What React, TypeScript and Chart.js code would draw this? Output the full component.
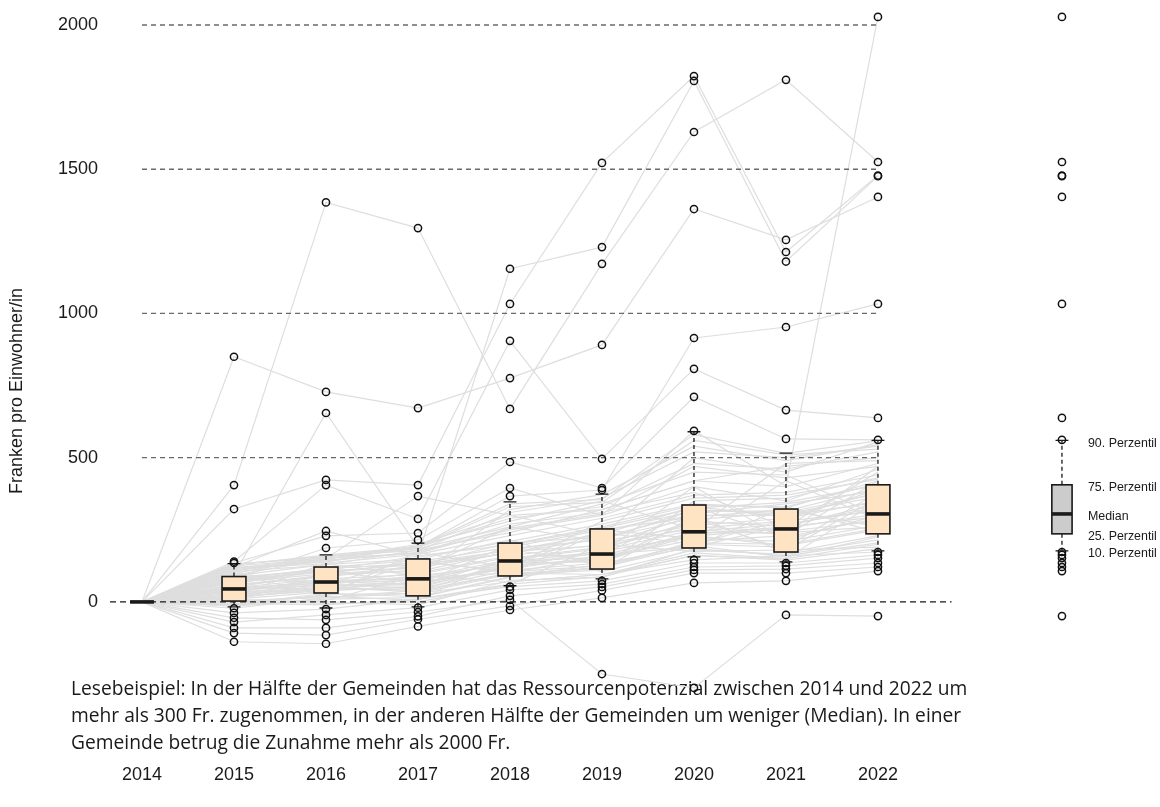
import { useEffect, useRef } from 'react';
import { Chart, registerables } from 'chart.js';

Chart.register(...registerables);

// ---------- data ----------
const years = ['2014', '2015', '2016', '2017', '2018', '2019', '2020', '2021', '2022'];
const yTickValues = [0, 500, 1000, 1500, 2000];

// box statistics per year (10th, 25th, median, 75th, 90th percentile)
const p10 = [0, -17, -21, -17, 56, 80, 156, 139, 177];
const p25 = [0, 3, 31, 21, 90, 114, 187, 173, 236];
const p50 = [0, 45, 69, 80, 142, 166, 243, 253, 305];
const p75 = [0, 88, 121, 149, 204, 253, 336, 322, 406];
const p90 = [0, 133, 163, 204, 347, 374, 590, 516, 560];

const legendLabels = ['90. Perzentil', '75. Perzentil', 'Median', '25. Perzentil', '10. Perzentil'];
const yTitle = 'Franken pro Einwohner/in';
const noteLines = [
  'Lesebeispiel: In der Hälfte der Gemeinden hat das Ressourcenpotenzial zwischen 2014 und 2022 um',
  'mehr als 300 Fr. zugenommen, in der anderen Hälfte der Gemeinden um weniger (Median). In einer',
  'Gemeinde betrug die Zunahme mehr als 2000 Fr.',
];

// change per municipality vs. 2014 (columns 2014 ... 2022)
const gemeinden: number[][] = [
  [0, 405, 1385, 1296, 669, 1172, 1629, 1810, 1525],
  [0, 850, 728, 672, 776, 891, 1362, 1255, 1404],
  [0, 322, 423, 405, 1033, 1522, 1823, 1213, 1478],
  [0, 120, 246, 160, 1155, 1230, 1806, 1180, 1476],
  [0, 140, 405, 288, 905, 496, 808, 665, 638],
  [0, 94, 655, 190, 367, 388, 915, 953, 1033],
  [0, 135, 229, 239, 485, 395, 711, 565, 562],
  [0, 80, 187, 215, 395, 300, 593, 402, 2028],
  [0, 110, 150, 367, 300, 320, 420, 470, 500],
  [0, -55, -62, -35, 7, -250, -298, -45, -49],
  [0, -138, -145, -85, -28, 14, 66, 73, 107],
  [0, -108, -115, -60, -14, 40, 100, 100, 121],
  [0, -90, -90, -50, 21, 52, 111, 114, 135],
  [0, -70, -45, -20, 42, 62, 121, 125, 152],
  [0, -38, -25, 10, 53, 73, 135, 135, 163],
  [0, -22, 15, 30, 70, 95, 146, 160, 173],
  [0, -10, 5, 90, 70, 95, 170, 150, 200],
  [0, -5, -10, 10, 62, 88, 162, 145, 185],
  [0, 0, 20, 5, 160, 105, 180, 165, 215],
  [0, -15, 10, 15, 85, 120, 195, 155, 225],
  [0, 2, -5, 0, 60, 200, 175, 180, 190],
  [0, -12, 25, 30, 95, 110, 300, 170, 230],
  [0, 8, 0, -10, 75, 85, 185, 160, 205],
  [0, -8, 30, 18, 88, 130, 200, 190, 380],
  [0, 5, 15, 40, 100, 95, 160, 150, 350],
  [0, 10, 35, 140, 105, 125, 205, 200, 255],
  [0, 15, 45, 45, 110, 135, 190, 330, 240],
  [0, 20, 38, 55, 120, 250, 220, 210, 265],
  [0, 25, 50, 35, 98, 118, 210, 230, 420],
  [0, 12, 55, 60, 125, 145, 230, 195, 250],
  [0, 30, 42, 70, 115, 160, 330, 225, 290],
  [0, 18, 60, 48, 135, 140, 240, 240, 260],
  [0, 35, 48, 40, 130, 170, 400, 215, 300],
  [0, 28, 65, 75, 140, 155, 215, 420, 285],
  [0, 40, 58, 65, 118, 180, 250, 235, 470],
  [0, 38, 68, 85, 100, 162, 235, 260, 295],
  [0, 45, 72, 58, 150, 190, 260, 245, 280],
  [0, 100, 62, 90, 128, 148, 245, 270, 320],
  [0, 42, 75, 78, 138, 175, 228, 255, 305],
  [0, 50, 80, 95, 155, 165, 190, 265, 330],
  [0, 48, 66, 100, 160, 200, 255, 280, 315],
  [0, 55, 40, 82, 148, 185, 280, 262, 340],
  [0, 60, 90, 110, 260, 210, 265, 290, 350],
  [0, 52, 95, 120, 170, 220, 290, 180, 360],
  [0, 5, 100, 105, 175, 195, 300, 300, 345],
  [0, 58, 88, 125, 180, 140, 285, 310, 375],
  [0, 70, 105, 130, 168, 240, 200, 285, 390],
  [0, 75, 110, 115, 185, 215, 320, 305, 365],
  [0, 68, 98, 140, 190, 250, 295, 320, 260],
  [0, 80, 115, 135, 178, 235, 330, 295, 380],
  [0, 62, 120, 145, 100, 245, 315, 315, 395],
  [0, 85, 112, 60, 200, 260, 335, 330, 410],
  [0, 78, 118, 128, 205, 225, 305, 340, 385],
  [0, 88, 60, 155, 210, 270, 340, 325, 420],
  [0, 72, 108, 160, 198, 255, 325, 345, 405],
  [0, 90, 130, 148, 215, 120, 350, 360, 430],
  [0, 20, 135, 165, 230, 290, 370, 380, 440],
  [0, 100, 20, 175, 250, 300, 400, 350, 460],
  [0, 105, 128, 180, 240, 320, 420, 400, 480],
  [0, 110, 145, 170, 270, 310, 380, 260, 450],
  [0, 92, 150, 185, 260, 340, 450, 440, 300],
  [0, 115, 155, 190, 290, 330, 480, 460, 520],
  [0, 120, 138, 195, 280, 350, 250, 480, 490],
  [0, 98, 160, 178, 310, 360, 520, 500, 540],
  [0, 125, 148, 200, 300, 230, 500, 450, 555],
  [0, 130, 158, 188, 330, 345, 560, 510, 530],
  [0, 108, 142, 172, 120, 280, 360, 370, 425],
  [0, 118, 132, 90, 320, 372, 540, 490, 545],
  [0, 128, 162, 192, 340, 355, 580, 515, 558],
  [0, 132, 152, 168, 255, 305, 470, 430, 470],
];

// ---------- layout constants ----------
const X_MIN = -0.3478;
const X_MAX = 10.957;
const Y_MIN = -548;
const Y_MAX = 2052;
const LEGEND_POS = 10;
const BOX_HALF = 0.13;
const LEGEND_HALF = 0.11;
const CAP_HALF = 0.07;

function drawBox(ctx: CanvasRenderingContext2D, xs: any, ys: any, xv: number, lo: number, q1: number, md: number, q3: number, hi: number, half: number, fill: string) {
  const x = xs.getPixelForValue(xv);
  const unit = xs.getPixelForValue(1) - xs.getPixelForValue(0);
  const hw = half * unit;
  const cw = CAP_HALF * unit;
  const yLo = ys.getPixelForValue(lo);
  const yQ1 = ys.getPixelForValue(q1);
  const yMd = ys.getPixelForValue(md);
  const yQ3 = ys.getPixelForValue(q3);
  const yHi = ys.getPixelForValue(hi);
  ctx.save();
  ctx.strokeStyle = '#1a1a1a';
  ctx.lineWidth = 1.3;
  ctx.setLineDash([4, 3]);
  ctx.beginPath();
  ctx.moveTo(x, yQ3);
  ctx.lineTo(x, yHi);
  ctx.moveTo(x, yQ1);
  ctx.lineTo(x, yLo);
  ctx.stroke();
  ctx.setLineDash([]);
  ctx.beginPath();
  ctx.moveTo(x - cw, yHi);
  ctx.lineTo(x + cw, yHi);
  ctx.moveTo(x - cw, yLo);
  ctx.lineTo(x + cw, yLo);
  ctx.stroke();
  ctx.fillStyle = fill;
  ctx.fillRect(x - hw, yQ3, 2 * hw, yQ1 - yQ3);
  ctx.lineWidth = 1.6;
  ctx.strokeRect(x - hw, yQ3, 2 * hw, yQ1 - yQ3);
  ctx.lineWidth = 3.6;
  ctx.beginPath();
  ctx.moveTo(x - hw, yMd);
  ctx.lineTo(x + hw, yMd);
  ctx.stroke();
  ctx.restore();
}

const boxPlugin = {
  id: 'boxPlugin',
  beforeDatasetsDraw(chart: any) {
    const ctx: CanvasRenderingContext2D = chart.ctx;
    ctx.save();
    let size = 17;
    ctx.font = `${size}px "Open Sans"`;
    const w = ctx.measureText(noteLines[0]).width;
    size = (size * 897) / w;
    ctx.font = `${size}px "Open Sans"`;
    ctx.fillStyle = '#1a1a1a';
    ctx.textAlign = 'left';
    ctx.textBaseline = 'middle';
    noteLines.forEach((t, i) => ctx.fillText(t, 71, 690 + i * 27));
    ctx.restore();
  },
  afterDatasetDraw(chart: any, args: any) {
    if (args.index !== 1) return;
    const ctx: CanvasRenderingContext2D = chart.ctx;
    const xs = chart.scales.x;
    const ys = chart.scales.y;
    ctx.save();
    ctx.lineWidth = 1.3;
    ctx.setLineDash([5, 4]);
    ctx.strokeStyle = '#6a6a6a';
    yTickValues.forEach((v) => {
      if (v === 0) return;
      const y = ys.getPixelForValue(v);
      ctx.beginPath();
      ctx.moveTo(xs.getPixelForValue(0), y);
      ctx.lineTo(xs.getPixelForValue(years.length - 1), y);
      ctx.stroke();
    });
    ctx.strokeStyle = '#1a1a1a';
    ctx.setLineDash([6, 4]);
    const y0 = ys.getPixelForValue(0);
    ctx.beginPath();
    ctx.moveTo(xs.getPixelForValue(X_MIN), y0);
    ctx.lineTo(xs.getPixelForValue(8.8), y0);
    ctx.stroke();
    ctx.restore();
    years.forEach((_, i) => {
      drawBox(ctx, xs, ys, i, p10[i], p25[i], p50[i], p75[i], p90[i], BOX_HALF, '#FFE4C4');
    });
    const last = years.length - 1;
    drawBox(ctx, xs, ys, LEGEND_POS, p10[last], p25[last], p50[last], p75[last], p90[last], LEGEND_HALF, '#cccccc');
  },
  afterDraw(chart: any) {
    const ctx: CanvasRenderingContext2D = chart.ctx;
    const xs = chart.scales.x;
    const ys = chart.scales.y;
    const last = years.length - 1;
    const vals = [p90[last], p75[last], p50[last], p25[last], p10[last]];
    ctx.save();
    ctx.font = '12.4px "Liberation Sans"';
    ctx.fillStyle = '#1a1a1a';
    ctx.textAlign = 'left';
    ctx.textBaseline = 'middle';
    const lx = xs.getPixelForValue(LEGEND_POS) + 26;
    legendLabels.forEach((t, i) => ctx.fillText(t, lx, ys.getPixelForValue(vals[i]) + 3));
    ctx.translate(17, 391);
    ctx.rotate(-Math.PI / 2);
    ctx.font = '18px "Liberation Sans"';
    ctx.textAlign = 'center';
    ctx.fillText(yTitle, 0, 0);
    ctx.restore();
  },
};

export default function App() {
  const ref = useRef<HTMLCanvasElement | null>(null);
  useEffect(() => {
    if (!ref.current) return;
    const last = years.length - 1;
    const outliers: { x: number; y: number }[] = [];
    for (let j = 1; j < years.length; j++) {
      gemeinden.forEach((row) => {
        if (row[j] > p90[j] || row[j] < p10[j]) outliers.push({ x: j, y: row[j] });
      });
    }
    gemeinden.forEach((row) => {
      if (row[last] > p90[last] || row[last] < p10[last]) outliers.push({ x: LEGEND_POS, y: row[last] });
    });
    const datasets: any[] = [
      {
        type: 'scatter',
        data: outliers,
        pointRadius: 3.6,
        pointBorderWidth: 1.5,
        pointBorderColor: '#111',
        pointBackgroundColor: 'rgba(0,0,0,0)',
        showLine: false,
        clip: false,
      },
      ...gemeinden.map((row) => ({
        type: 'line',
        data: row.map((v, i) => ({ x: i, y: v })),
        borderColor: '#dedede',
        borderWidth: 1.2,
        pointRadius: 0,
        fill: false,
        tension: 0,
      })),
    ];
    const chart = new Chart(ref.current, {
      type: 'line',
      data: { datasets },
      options: {
        animation: false,
        responsive: false,
        events: [],
        layout: { padding: { top: 10, right: 10, left: 0, bottom: 0 } },
        plugins: { legend: { display: false }, tooltip: { enabled: false } },
        scales: {
          x: {
            type: 'linear',
            min: X_MIN,
            max: X_MAX,
            grid: { display: false, drawTicks: false },
            border: { display: false },
            ticks: {
              padding: 4,
              autoSkip: false,
              maxRotation: 0,
              color: '#1a1a1a',
              font: { family: 'Liberation Sans', size: 18 },
              callback: (v: any) => years[Math.round(Number(v))] ?? '',
            },
            afterBuildTicks: (s: any) => {
              s.ticks = years.map((_, i) => ({ value: i }));
            },
            afterFit: (s: any) => {
              s.height = 47;
              s.paddingLeft = 0;
              s.paddingRight = 0;
            },
          },
          y: {
            type: 'linear',
            min: Y_MIN,
            max: Y_MAX,
            grid: { display: false, drawTicks: false },
            border: { display: false },
            ticks: {
              padding: 12,
              color: '#1a1a1a',
              font: { family: 'Liberation Sans', size: 18 },
              callback: (v: any) => String(v),
            },
            afterBuildTicks: (s: any) => {
              s.ticks = yTickValues.map((v) => ({ value: v }));
            },
            afterFit: (s: any) => {
              s.width = 110;
              s.paddingTop = 0;
              s.paddingBottom = 0;
            },
          },
        },
      } as any,
      plugins: [boxPlugin as any],
    });
    return () => chart.destroy();
  }, []);
  return (
    <div style={{ position: 'absolute', left: 0, top: 0, width: 1160, height: 807, background: '#fff' }}>
      <canvas ref={ref} width={1160} height={807} style={{ width: 1160, height: 807, display: 'block' }} />
    </div>
  );
}
